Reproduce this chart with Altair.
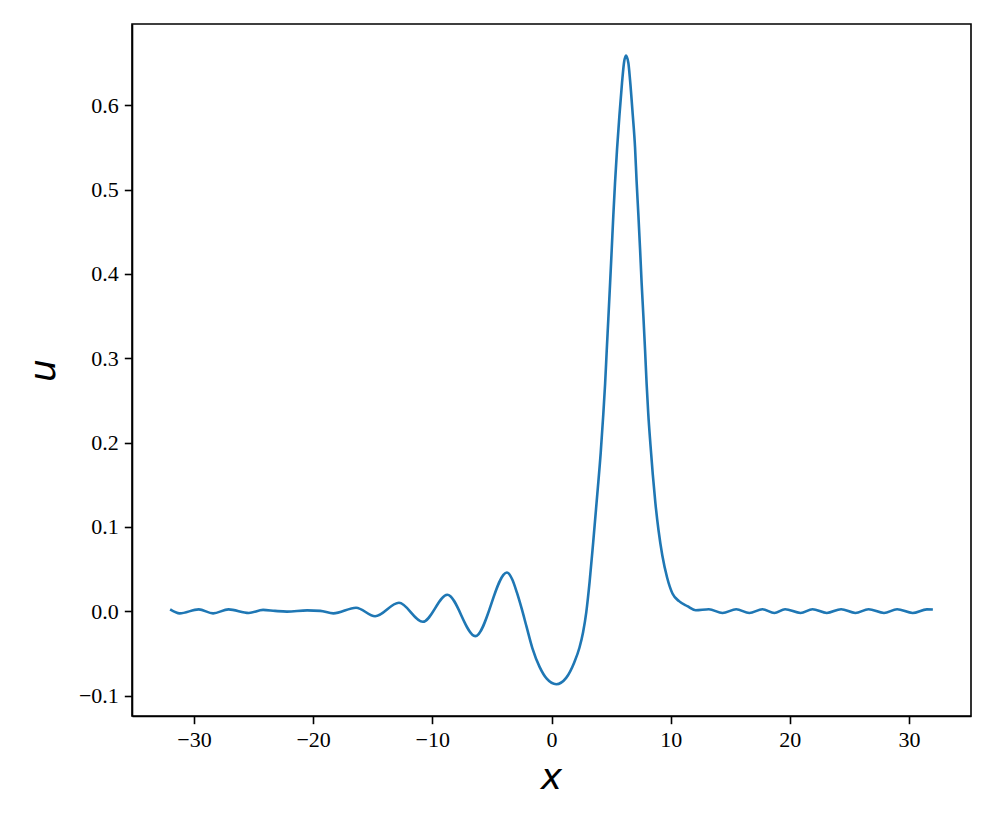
import altair as alt
import pandas as pd

xs = [-32.0, -31.2, -29.6, -28.4, -27.1, -25.4, -24.2, -23.2, -22.2, -20.5,
      -19.4, -18.3, -16.4, -14.8, -12.8, -10.8, -8.74, -6.39, -3.74, -3.3,
      -2.9, -2.5, -2.1, -1.6, -1.0, -0.4, 0.4, 1.23, 1.9, 2.35,
      2.65, 2.92, 3.2, 3.5, 3.85, 4.13, 4.33, 4.50, 4.63, 4.77,
      4.92, 5.05, 5.19, 5.33, 5.50, 5.70, 5.92, 6.09, 6.25, 6.45,
      6.59, 6.81, 7.01, 7.14, 7.29, 7.43, 7.56, 7.71, 7.85, 7.98,
      8.12, 8.30, 8.50, 8.72, 8.98, 9.3, 9.7, 10.15, 10.7, 11.4,
      12.1, 13.2, 14.35, 15.5, 16.6, 17.7, 18.7, 19.6, 20.9, 21.9,
      23.1, 24.3, 25.5, 26.6, 27.9, 29.0, 30.3, 31.5, 32.0]
us = [0.0022, -0.0025, 0.0022, -0.0025, 0.0022, -0.0020, 0.0016, 0.0004, -0.0004, 0.0010,
      0.0004, -0.0025, 0.0042, -0.0060, 0.0100, -0.0125, 0.0195, -0.0295, 0.0460, 0.038,
      0.022, 0.003, -0.018, -0.044, -0.066, -0.080, -0.0865, -0.079, -0.061, -0.043,
      -0.025, -0.001, 0.035, 0.082, 0.140, 0.188, 0.230, 0.270, 0.308, 0.347,
      0.390, 0.428, 0.470, 0.508, 0.548, 0.588, 0.627, 0.651, 0.659, 0.650,
      0.630, 0.590, 0.550, 0.510, 0.470, 0.430, 0.390, 0.350, 0.310, 0.270,
      0.234, 0.198, 0.162, 0.128, 0.096, 0.066, 0.040, 0.021, 0.012, 0.006,
      0.0012, 0.0024, -0.0020, 0.0024, -0.0020, 0.0024, -0.0020, 0.0024, -0.0020, 0.0024,
      -0.0020, 0.0024, -0.0020, 0.0024, -0.0020, 0.0024, -0.0020, 0.0022, 0.0020]

x_ticks = [-30, -20, -10, 0, 10, 20, 30]
y_ticks = [-0.1, 0.0, 0.1, 0.2, 0.3, 0.4, 0.5, 0.6]

df = pd.DataFrame({"x": xs, "u": us})

chart = alt.Chart(df).mark_line(
    color="#1f77b4", strokeWidth=2.6, interpolate="monotone"
).encode(
    x=alt.X("x:Q",
            scale=alt.Scale(domain=[-35.2, 35.2], nice=False, zero=False),
            axis=alt.Axis(values=x_ticks, format="d", title="x",
                          titleX=419, titleY=72, titleBaseline="alphabetic",
                          titleAlign="center")),
    y=alt.Y("u:Q",
            scale=alt.Scale(domain=[-0.1242, 0.6963], nice=False, zero=False),
            axis=alt.Axis(values=y_ticks, format=".1f", title="u",
                          titleX=-78, titleY=346, titleAngle=270,
                          titleBaseline="alphabetic", titleAlign="center")),
).properties(
    width=839, height=692,
    autosize=alt.AutoSizeParams(type="none"),
    padding={"left": 124, "top": 16, "right": 17, "bottom": 90},
).configure_view(
    stroke="black", strokeWidth=1.6
).configure_axis(
    grid=False,
    domainColor="black", domainWidth=1.6,
    tickColor="black", tickWidth=1.6, tickSize=7.7,
    labelFont="Liberation Serif", labelFontSize=22, labelColor="black",
    labelPadding=6,
    titleFont="DejaVu Sans", titleFontStyle="italic", titleFontWeight="normal",
    titleFontSize=36, titleColor="black",
)

chart.save("out.html", embed_options={"renderer": "svg", "actions": False})
